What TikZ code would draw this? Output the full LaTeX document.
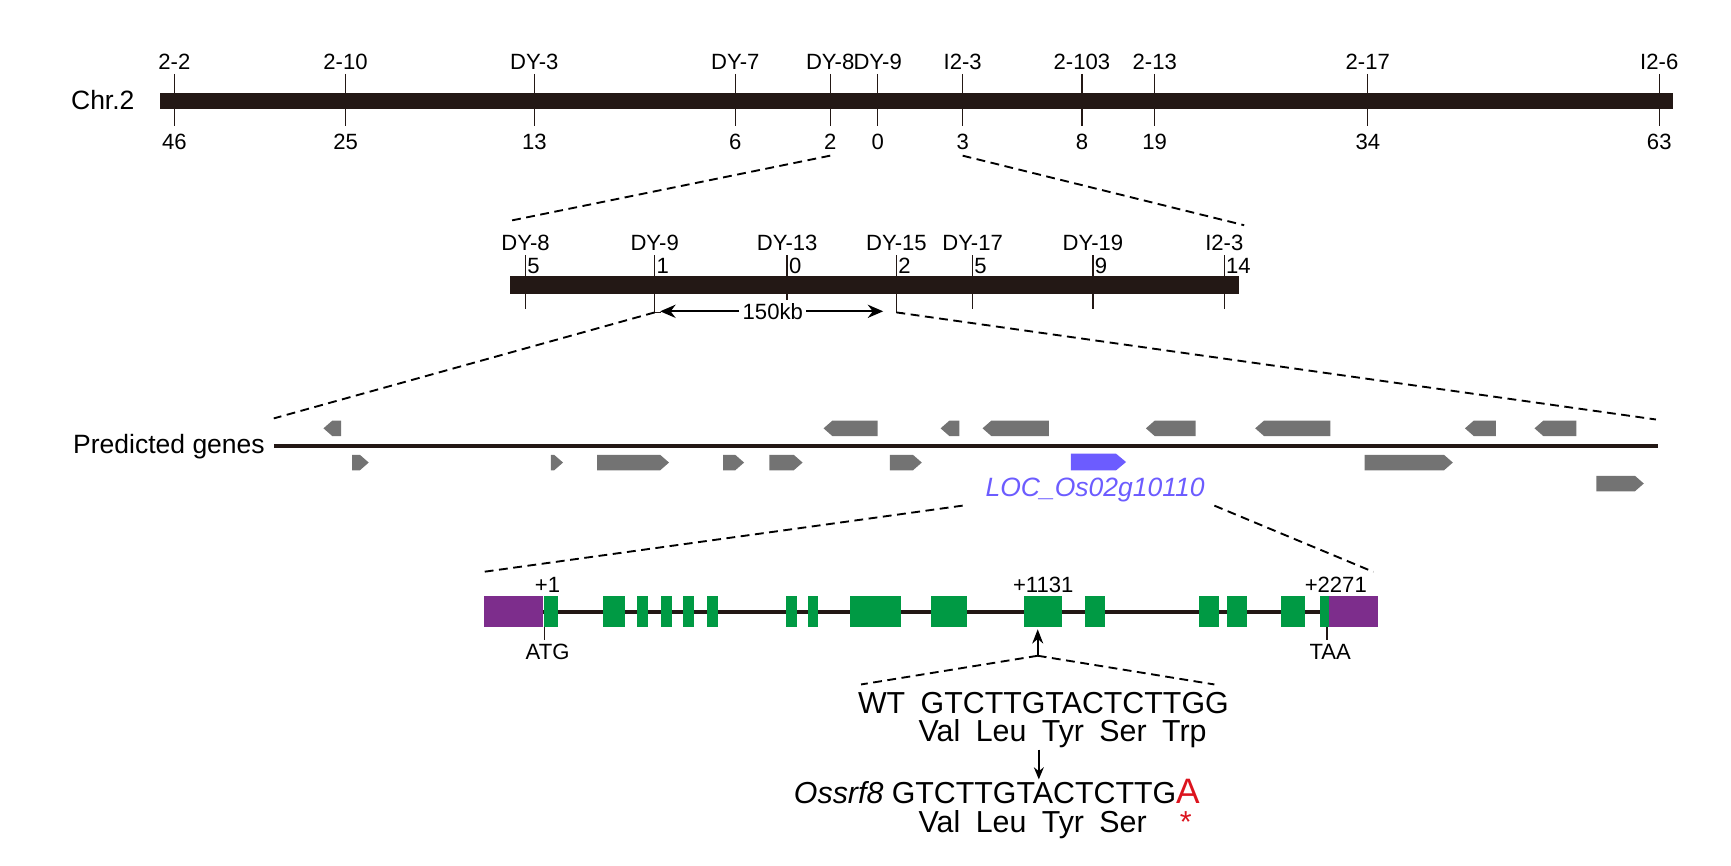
\documentclass[tikz,border=0pt]{standalone}
\usepackage{fontspec}
\setmainfont{Liberation Sans}
\usetikzlibrary{positioning, arrows.meta}
\definecolor{chrom}{RGB}{35,24,21}
\definecolor{genegray}{RGB}{115,115,115}
\definecolor{locblue}{RGB}{108,92,255}
\definecolor{exongreen}{RGB}{0,154,68}
\definecolor{utrpurple}{RGB}{125,45,140}
\definecolor{mutred}{RGB}{220,20,30}

\begin{document}
\begin{tikzpicture}[
  x=1pt, y=-1pt,
  bar/.style={fill=chrom, draw=none},
  tick/.style={draw=chrom, line width=1.2pt},
  zoomline/.style={draw=black, line width=1.7pt, dash pattern=on 8pt off 5pt},
  lbl/.style={font=\fontsize{20}{22}\selectfont, inner sep=1pt},
  biglbl/.style={font=\fontsize{24}{26}\selectfont, inner sep=1pt},
  seq/.style={font=\fontsize{27.5}{29}\selectfont, inner sep=0pt, anchor=west},
  fwd/.style={fill=genegray, draw=none},
  exon/.style={fill=exongreen, draw=none},
  utr/.style={fill=utrpurple, draw=none},
]
\useasboundingbox (0,0) rectangle (1568,784);

%%% Chromosome 2
\node[biglbl, anchor=east] (chr) at (123,91) {Chr.2};
\fill[bar] (145,84) rectangle (1515,99);
\foreach \x/\name/\dist in {158/2-2/46, 313/2-10/25, 484/DY-3/13, 666/DY-7/6, 752/DY-8/2,
    795/DY-9/0, 872/I2-3/3, 980/2-103/8, 1046/2-13/19, 1239/2-17/34, 1503/I2-6/63} {
  \draw[tick] (\x,67) -- (\x,114);
  \node[lbl, anchor=south] at (\x,64) {\name};
  \node[lbl, anchor=north] (c\x) at (\x,120) {\dist};
}
\coordinate (dy8) at (752,141);
\coordinate (i23) at (872,141);

%%% Fine map
\fill[bar] (462,250) rectangle (1122,266);
\foreach \x/\name/\dist in {476/DY-8/5, 593/DY-9/1, 713/DY-13/0, 812/DY-15/2,
    881/DY-17/5, 990/DY-19/9, 1109/I2-3/14} {
  \draw[tick] (\x,231) -- (\x,280);
  \node[lbl, anchor=south] at (\x,228) {\name};
  \node[lbl, anchor=west, inner sep=1.5pt] at (\x,241) {\dist};
}
\coordinate (fineL) at (462,200);
\coordinate (fineR) at (1127,204);
\draw[zoomline] (dy8) -- (fineL);
\draw[zoomline] (i23) -- (fineR);
\coordinate (dy9) at (593,283);
\coordinate (dy15) at (812,283);
\draw[tick] (593,280) -- (dy9) -- (599,283);
\draw[tick] (812,280) -- (dy15) -- (818,283);
\node[lbl, fill=white, inner sep=3pt] (kb) at (700,282) {150kb};
\draw[-{Stealth[length=14pt,width=12pt]}, line width=1.6pt] (kb.west) -- (598,282);
\draw[-{Stealth[length=14pt,width=12pt]}, line width=1.6pt] (kb.east) -- (800,282);

%%% Predicted genes
\node[biglbl, anchor=east] (pred) at (241,405) {Predicted genes};
\fill[bar] (248,402.5) rectangle (1502,406);
\coordinate (genesL) at (248,379);
\coordinate (genesR) at (1500,380);
\draw[zoomline] (dy9) -- (genesL);
\draw[zoomline] (dy15) -- (genesR);
% reverse strand
\foreach \a/\b in {293/309, 746/795, 852/869, 890/950, 1038/1083, 1137/1205, 1327/1355, 1390/1428}
  \fill[fwd] (\b,381) -- (\a+8,381) -- (\a,388) -- (\a+8,395) -- (\b,395) -- cycle;
% forward strand
\foreach \a/\b/\y in {319/334/412, 499/510/412, 541/606/412, 655/674/412, 697/727/412,
    806/835/412, 1236/1316/412, 1446/1489/431}
  \fill[fwd] (\a,\y) -- (\b-8,\y) -- (\b,\y+7) -- (\b-8,\y+14) -- (\a,\y+14) -- cycle;
\fill[locblue] (970,411) -- (1011,411) -- (1020,418.5) -- (1011,426) -- (970,426) -- cycle;
\node[biglbl, font=\fontsize{24}{26}\selectfont\itshape, text=locblue] (loc) at (992,444) {LOC\_Os02g10110};

%%% Gene structure
\coordinate (locL) at (872,458);
\coordinate (locR) at (1100,458);
\coordinate (modelL) at (438,518);
\coordinate (modelR) at (1244,518);
\draw[zoomline] (locL) -- (modelL);
\draw[zoomline] (locR) -- (modelR);
\fill[bar] (438,552.5) rectangle (1248,556);
\fill[utr] (438,540) rectangle (492,568);
\fill[utr] (1204,540) rectangle (1248,568);
\foreach \a/\b in {493/505, 546/566, 577/587, 599/609, 619/629, 640/650, 712/722, 732/741,
    770/816, 843/876, 928/962, 983/1001, 1086/1104, 1111/1130, 1160/1182, 1196/1204}
  \fill[exon] (\a,540) rectangle (\b,568);
\node[lbl, anchor=south] at (496,538) {+1};
\node[lbl, anchor=south] at (945,538) {+1131};
\node[lbl, anchor=south] at (1210,538) {+2271};
\draw[tick] (493,568) -- (493,580);
\node[lbl, anchor=north] (atg) at (496,582) {ATG};
\draw[tick] (1202,568) -- (1202,580);
\node[lbl, anchor=north] (taa) at (1205,582) {TAA};
\coordinate (mut) at (940,594);
\draw[-{Stealth[length=13pt,width=10pt]}, line width=1.4pt] (mut) -- (940,570);
\draw[zoomline] (mut) -- (780,620);
\draw[zoomline] (mut) -- (1100,620);

%%% Sequences
\node[seq] (wt) at (777,637) {WT\hspace{14pt}GTCTTGTACTCTTGG};
\node[seq] (wtaa) at (832,665) {Val\hspace{14pt}Leu\hspace{14pt}Tyr\hspace{14pt}Ser\hspace{14pt}Trp};
\coordinate (arrtop) at (941,679);
\coordinate (arrbot) at (941,706);
\draw[-{Stealth[length=11pt,width=9pt]}, line width=1.4pt] (arrtop) -- (arrbot);
\node[seq] (mt) at (719,717) {\textit{Ossrf8} GTCTTGTACTCTTG\textcolor{mutred}{\fontsize{32}{33}\selectfont A}};
\node[seq] (mtaa) at (832,747) {Val\hspace{14pt}Leu\hspace{14pt}Tyr\hspace{14pt}Ser\hspace{30pt}\textcolor{mutred}{*}};
\end{tikzpicture}
\end{document}
